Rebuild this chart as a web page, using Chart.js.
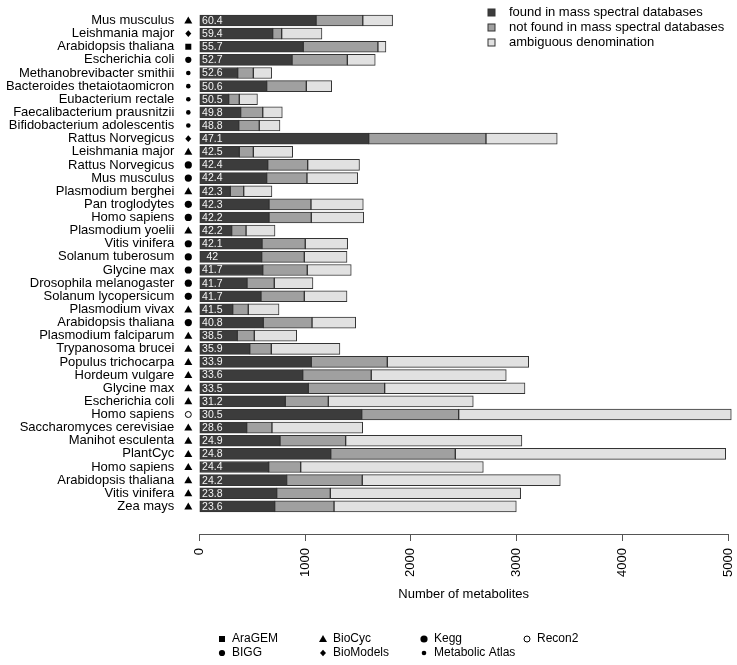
<!DOCTYPE html>
<html>
<head>
<meta charset="utf-8">
<script src="https://cdn.jsdelivr.net/npm/chart.js@4.4.1/dist/chart.umd.min.js"></script>
<style>
  html, body { margin: 0; padding: 0; background: #fff; }
  #wrap { width: 737px; height: 665px; position: relative; }
</style>
</head>
<body>
<div id="wrap"><canvas id="chart" width="737" height="665"></canvas></div>
<script>
// organisms / models, top to bottom
const organisms = [
  'Mus musculus', 'Leishmania major', 'Arabidopsis thaliana', 'Escherichia coli',
  'Methanobrevibacter smithii', 'Bacteroides thetaiotaomicron', 'Eubacterium rectale',
  'Faecalibacterium prausnitzii', 'Bifidobacterium adolescentis', 'Rattus Norvegicus',
  'Leishmania major', 'Rattus Norvegicus', 'Mus musculus', 'Plasmodium berghei',
  'Pan troglodytes', 'Homo sapiens', 'Plasmodium yoelii', 'Vitis vinifera',
  'Solanum tuberosum', 'Glycine max', 'Drosophila melanogaster', 'Solanum lycopersicum',
  'Plasmodium vivax', 'Arabidopsis thaliana', 'Plasmodium falciparum', 'Trypanosoma brucei',
  'Populus trichocarpa', 'Hordeum vulgare', 'Glycine max', 'Escherichia coli',
  'Homo sapiens', 'Saccharomyces cerevisiae', 'Manihot esculenta', 'PlantCyc',
  'Homo sapiens', 'Arabidopsis thaliana', 'Vitis vinifera', 'Zea mays'
];
const sources = [
  'BioCyc', 'BioModels', 'AraGEM', 'BIGG',
  'Metabolic Atlas', 'Metabolic Atlas', 'Metabolic Atlas', 'Metabolic Atlas', 'Metabolic Atlas',
  'BioModels', 'BioCyc', 'Kegg', 'Kegg', 'BioCyc', 'Kegg', 'Kegg', 'BioCyc',
  'Kegg', 'Kegg', 'Kegg', 'Kegg', 'Kegg', 'BioCyc', 'Kegg',
  'BioCyc', 'BioCyc', 'BioCyc', 'BioCyc', 'BioCyc', 'BioCyc',
  'Recon2', 'BioCyc', 'BioCyc', 'BioCyc', 'BioCyc', 'BioCyc', 'BioCyc', 'BioCyc'
];
const percentFound = [
  '60.4', '59.4', '55.7', '52.7', '52.6', '50.6', '50.5', '49.8', '48.8', '47.1',
  '42.5', '42.4', '42.4', '42.3', '42.3', '42.2', '42.2', '42.1', '42', '41.7',
  '41.7', '41.7', '41.5', '40.8', '38.5', '35.9', '33.9', '33.6', '33.5', '31.2',
  '30.5', '28.6', '24.9', '24.8', '24.4', '24.2', '23.8', '23.6'
];
const found = [
  1104, 694, 983, 877, 363, 637, 278, 391, 373, 1602,
  378, 647, 637, 293, 659, 659, 306, 593, 590, 600,
  451, 583, 316, 605, 359, 477, 1059, 978, 1031, 813,
  1536, 448, 763, 1243, 656, 826, 732, 713
];
const notFound = [
  442, 85, 706, 523, 148, 375, 100, 209, 194, 1109,
  133, 378, 381, 127, 397, 400, 136, 409, 403, 421,
  258, 410, 147, 461, 161, 204, 719, 648, 722, 407,
  917, 239, 621, 1178, 303, 715, 507, 561
];
const ambiguous = [
  282, 381, 76, 264, 174, 240, 172, 185, 196, 674,
  372, 490, 480, 267, 495, 496, 274, 401, 404, 416,
  366, 404, 291, 413, 401, 649, 1337, 1277, 1327, 1371,
  2578, 858, 1667, 2557, 1727, 1873, 1800, 1724
];
const xTicks = [0, 1000, 2000, 3000, 4000, 5000];
const seriesNames = [
  'found in mass spectral databases',
  'not found in mass spectral databases',
  'ambiguous denomination'
];
const seriesColors = ['#3c3c3c', '#a0a0a0', '#e1e1e1'];
const sourceLegend = [['AraGEM', 'BIGG'], ['BioCyc', 'BioModels'], ['Kegg', 'Metabolic Atlas'], ['Recon2']];

const rows = organisms.map((_, i) => i + 1);
const toPoints = (arr) => arr.map((v, i) => ({ x: v, y: rows[i] }));

Chart.defaults.font.family = '"Liberation Sans", Arial, Helvetica, sans-serif';
Chart.defaults.font.size = 13;
Chart.defaults.color = '#000';

function drawSymbol(ctx, type, x, y) {
  ctx.save();
  ctx.fillStyle = '#000';
  ctx.strokeStyle = '#000';
  ctx.lineWidth = 1;
  ctx.beginPath();
  switch (type) {
    case 'AraGEM':
      ctx.rect(x - 3, y - 3, 6, 6);
      ctx.fill();
      break;
    case 'BioCyc':
      ctx.moveTo(x, y - 4);
      ctx.lineTo(x + 4, y + 3);
      ctx.lineTo(x - 4, y + 3);
      ctx.closePath();
      ctx.fill();
      break;
    case 'BioModels':
      ctx.moveTo(x, y - 3.3);
      ctx.lineTo(x + 3, y);
      ctx.lineTo(x, y + 3.3);
      ctx.lineTo(x - 3, y);
      ctx.closePath();
      ctx.fill();
      break;
    case 'Kegg':
      ctx.arc(x, y, 3.6, 0, Math.PI * 2);
      ctx.fill();
      break;
    case 'BIGG':
      ctx.arc(x, y, 3.1, 0, Math.PI * 2);
      ctx.fill();
      break;
    case 'Metabolic Atlas':
      ctx.arc(x, y, 2.3, 0, Math.PI * 2);
      ctx.fill();
      break;
    case 'Recon2':
      ctx.arc(x, y, 3, 0, Math.PI * 2);
      ctx.stroke();
      break;
  }
  ctx.restore();
}

const extras = {
  id: 'extras',
  afterDatasetsDraw(chart) {
    const ctx = chart.ctx;
    const x0 = chart.scales.x.getPixelForValue(0);
    const bars = chart.getDatasetMeta(0).data;

    // source symbols and percentage labels
    bars.forEach((bar, i) => {
      drawSymbol(ctx, sources[i], x0 - 11, bar.y);
      ctx.save();
      ctx.fillStyle = '#f4f4f4';
      ctx.font = '10.5px "Liberation Sans", Arial, sans-serif';
      ctx.textAlign = 'center';
      ctx.textBaseline = 'middle';
      ctx.fillText(percentFound[i], x0 + 13, bar.y + 0.5);
      ctx.restore();
    });

    // top-right legend
    ctx.save();
    ctx.font = '13px "Liberation Sans", Arial, sans-serif';
    ctx.textBaseline = 'middle';
    seriesNames.forEach((name, i) => {
      const y = 12.5 + i * 15;
      ctx.fillStyle = seriesColors[i];
      ctx.fillRect(488, y - 3.5, 7, 7);
      ctx.strokeStyle = '#333';
      ctx.lineWidth = 1;
      ctx.strokeRect(488, y - 3.5, 7, 7);
      ctx.fillStyle = '#000';
      ctx.fillText(name, 509, y);
    });
    ctx.restore();

    // bottom legend of model sources
    ctx.save();
    ctx.font = '12px "Liberation Sans", Arial, sans-serif';
    ctx.textBaseline = 'middle';
    ctx.fillStyle = '#000';
    const colX = [222, 323, 424, 527];
    sourceLegend.forEach((col, c) => {
      col.forEach((name, r) => {
        const y = 639 + r * 14;
        drawSymbol(ctx, name, colX[c], y);
        ctx.fillText(name, colX[c] + 10, y);
      });
    });
    ctx.restore();
  }
};

const barStyle = { borderColor: '#333', borderWidth: 1, borderSkipped: false, barThickness: 11 };

new Chart(document.getElementById('chart'), {
  type: 'bar',
  data: {
    datasets: [
      { label: seriesNames[0], data: toPoints(found), backgroundColor: seriesColors[0], ...barStyle },
      { label: seriesNames[1], data: toPoints(notFound), backgroundColor: seriesColors[1], ...barStyle },
      { label: seriesNames[2], data: toPoints(ambiguous), backgroundColor: seriesColors[2], ...barStyle }
    ]
  },
  options: {
    indexAxis: 'y',
    responsive: false,
    animation: false,
    devicePixelRatio: 1,
    layout: { padding: { top: 13.9, right: 9, bottom: 0, left: 0 } },
    plugins: { legend: { display: false }, tooltip: { enabled: false } },
    datasets: { bar: { clip: false } },
    scales: {
      x: {
        type: 'linear',
        bounds: 'data',
        stacked: true,
        min: 0,
        max: 5000,
        afterBuildTicks: (s) => { s.ticks = xTicks.map(v => ({ value: v })); },
        afterFit: (s) => { s.height = 131; s.paddingLeft = 0; s.paddingRight = 0; },
        ticks: {
          minRotation: 90, maxRotation: 90, autoSkip: false, padding: 7, font: { size: 13 },
          callback: (v) => String(v)
        },
        grid: { drawOnChartArea: false, drawTicks: true, tickLength: 7, color: '#555' },
        border: { display: true, color: '#555' },
        title: { display: true, text: 'Number of metabolites', font: { size: 13 }, padding: { top: 4, bottom: 63 } }
      },
      y: {
        type: 'linear',
        bounds: 'data',
        offset: false,
        reverse: true,
        stacked: true,
        min: 0.5,
        max: 40.1,
        afterBuildTicks: (s) => { s.ticks = rows.map(v => ({ value: v })); },
        afterFit: (s) => { s.width = 199.3; s.paddingTop = 0; s.paddingBottom = 0; },
        ticks: {
          autoSkip: false,
          padding: 25,
          font: { size: 13, lineHeight: 1 },
          callback: (v) => organisms[v - 1] || ''
        },
        grid: { display: false, drawTicks: false },
        border: { display: false }
      }
    }
  },
  plugins: [extras]
});
</script>
</body>
</html>
